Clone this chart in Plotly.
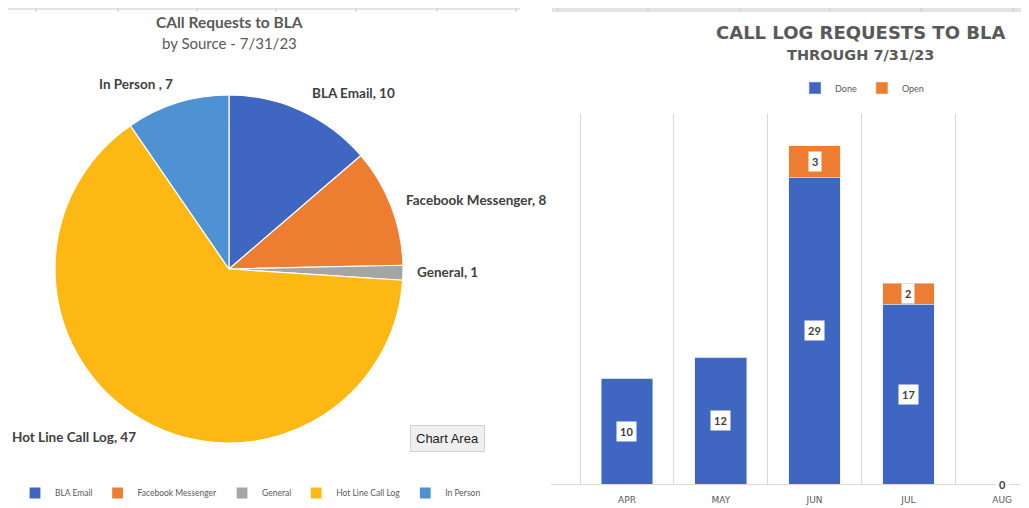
import plotly.graph_objects as go

# The page body has an 8px margin, so the figure is drawn 8px in from the corner;
# the figure is sized so that it reaches the edges of the 1029x508 window and pixel
# positions below are given in window pixels.
WIN_W, WIN_H = 1029, 508
OFF = 8
W, H = WIN_W - OFF, WIN_H - OFF

# ---- data ----
source_labels = ["BLA Email", "Facebook Messenger", "General", "Hot Line Call Log", "In Person "]
source_counts = [10, 8, 1, 47, 7]

months = ["APR", "MAY", "JUN", "JUL", "AUG"]
done_counts = [10, 12, 29, 17, 0]
open_counts = [0, 0, 3, 2, 0]

# ---- styles ----
source_colors = ["#3F66C1", "#ED7D31", "#A5A5A5", "#FDB813", "#4F92D3"]
done_color = "#3F66C1"
open_color = "#ED7D31"
label_pos = [(310, 93), (404, 200), (415, 272), (10, 437), (97, 84)]  # window pixels (left, middle)
FONT = "Lato"


def px(x):
    return (x - OFF) / W


def py(y):
    return 1 - (y - OFF) / H


fig = go.Figure()

fig.add_trace(go.Pie(
    labels=source_labels, values=source_counts, sort=False, direction="clockwise",
    rotation=0, textinfo="none", hoverinfo="label+value",
    marker=dict(colors=source_colors, line=dict(color="white", width=1.2)),
    domain=dict(x=[px(55), px(403)], y=[py(443), py(95)]),
    legend="legend2", showlegend=True,
))

fig.add_trace(go.Bar(x=months, y=done_counts, name="Done", marker_color=done_color,
                     width=0.55, legend="legend"))
fig.add_trace(go.Bar(x=months, y=open_counts, name="Open", marker_color=open_color,
                     width=0.55, legend="legend"))

annotations = []
# pie labels
for lab, val, (lx, ly) in zip(source_labels, source_counts, label_pos):
    annotations.append(dict(
        xref="paper", yref="paper", x=px(lx), y=py(ly), xanchor="left", yanchor="middle",
        text=f"<b>{lab}, {val}</b>", showarrow=False,
        font=dict(family=FONT, size=13.5, color="#404040")))

# bar labels
for m, d, o in zip(months, done_counts, open_counts):
    annotations.append(dict(
        x=m, y=d / 2, xref="x", yref="y", xanchor="center", yanchor="middle",
        text=f"<b>{d}</b>", showarrow=False,
        bgcolor="white", borderpad=3, font=dict(family=FONT, size=11, color="#404040")))
    if o > 0:
        annotations.append(dict(
            x=m, y=d + o / 2, xref="x", yref="y", xanchor="center", yanchor="middle",
            text=f"<b>{o}</b>", showarrow=False,
            bgcolor="white", borderpad=3, font=dict(family=FONT, size=11, color="#404040")))


# titles
def title(x, y, text, family, size, **kw):
    return dict(xref="paper", yref="paper", x=px(x), y=py(y), xanchor="center", yanchor="middle",
                text=text, showarrow=False, font=dict(family=family, size=size, color="#595959"), **kw)


annotations += [
    title(229, 22, "<b>CAll Requests to BLA</b>", FONT, 15.5),
    title(229, 43, "by Source - 7/31/23", FONT, 15),
    title(860, 32, "<b>CALL LOG REQUESTS TO BLA</b>", "DejaVu Sans", 18),
    title(860, 55, "<b>THROUGH 7/31/23</b>", "DejaVu Sans", 14.5),
    dict(xref="paper", yref="paper", x=px(447), y=py(438), xanchor="center", yanchor="middle",
         text="Chart Area", showarrow=False, bgcolor="#EFEFEF", bordercolor="#D0D0D0",
         borderwidth=1, borderpad=5,
         font=dict(family="Liberation Sans", size=13, color="#222222")),
]

# faint spreadsheet grid lines at the top
shapes = []
line_style = dict(color="#C8C8C8", width=1)
shapes.append(dict(type="line", xref="paper", yref="paper", x0=px(OFF), x1=px(520),
                   y0=py(9), y1=py(9), line=line_style))
for gx in [36, 118, 197, 276, 356, 437, 516]:
    shapes.append(dict(type="line", xref="paper", yref="paper", x0=px(gx), x1=px(gx),
                       y0=py(OFF), y1=py(12), line=line_style))
for gy in [9, 11]:
    shapes.append(dict(type="line", xref="paper", yref="paper", x0=px(552), x1=1,
                       y0=py(gy), y1=py(gy), line=line_style))
for gx in [558, 648, 740, 830, 921, 1013]:
    shapes.append(dict(type="line", xref="paper", yref="paper", x0=px(gx), x1=px(gx),
                       y0=py(OFF), y1=py(11), line=line_style))

fig.update_layout(
    width=W, height=H, autosize=False,
    margin=dict(l=0, r=0, t=0, b=0, autoexpand=False),
    paper_bgcolor="white", plot_bgcolor="white",
    barmode="stack",
    font=dict(family=FONT, color="#595959"),
    xaxis=dict(domain=[px(551), px(1020)], range=[-0.81, 4.19], type="category",
               tickson="boundaries", showgrid=True, gridcolor="#D9D9D9", gridwidth=1,
               ticks="", showline=True, linecolor="#D9D9D9", linewidth=1,
               ticklabelstandoff=7, automargin=False,
               tickfont=dict(family="DejaVu Sans", size=9, color="#595959"), fixedrange=True),
    yaxis=dict(domain=[py(484), py(114)], range=[0, 35], showgrid=False, zeroline=False,
               showticklabels=False, showline=False, fixedrange=True, automargin=False),
    legend=dict(orientation="h", x=px(862), y=py(88), xanchor="center", yanchor="middle",
                traceorder="normal",
                font=dict(family=FONT, size=9, color="#595959"), bgcolor="rgba(0,0,0,0)",
                itemwidth=30),
    legend2=dict(orientation="h", x=px(15), y=py(493), xanchor="left", yanchor="middle",
                 font=dict(family=FONT, size=8.5, color="#595959"), bgcolor="rgba(0,0,0,0)",
                 itemwidth=30),
    annotations=annotations,
    shapes=shapes,
    showlegend=True,
)

fig.write_html("out.html")
